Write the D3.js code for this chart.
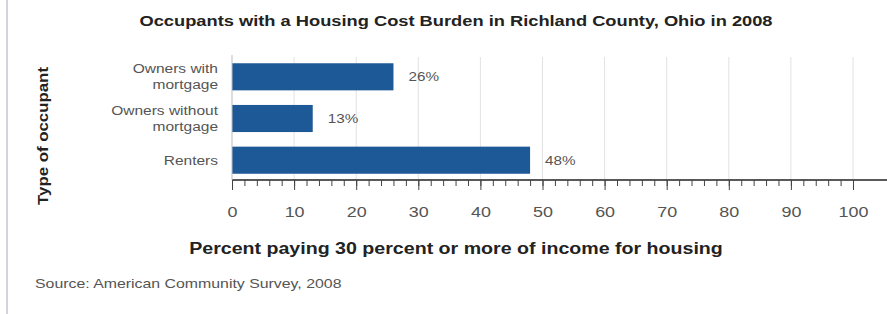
<!DOCTYPE html>
<html>
<head>
<meta charset="utf-8">
<script src="https://cdn.jsdelivr.net/npm/d3@7"></script>
<style>
    body { margin: 0; background: #fff; }
    text { font-family: "Liberation Sans", Arial, sans-serif; }
</style>
</head>
<body>
<div class="chart"></div>
<script>
// Data
const categories = [['Owners with', 'mortgage'], ['Owners without', 'mortgage'], ['Renters']];
const values = [26, 13, 48];
const valueLabels = ['26%', '13%', '48%'];
const tickValues = [0, 10, 20, 30, 40, 50, 60, 70, 80, 90, 100];
const minorTicks = d3.range(0, 101, 2);

const svg_width = 887;
const svg_height = 314;
const margin = { top: 57, left: 232, bottom: 180 };

// The original picture is a bit wider than tall, so text gets stretched sideways
function stretch(sel, k) {
    sel.each(function() {
        const w = this.getComputedTextLength();
        d3.select(this).attr('textLength', w * k).attr('lengthAdjust', 'spacingAndGlyphs');
    });
}

const svg = d3.select('.chart').append('svg')
    .attr('width', svg_width).attr('height', svg_height);

// left frame line
svg.append('rect').attr('x', 6).attr('y', 0).attr('width', 2).attr('height', svg_height).attr('fill', '#d4d4dc');

const xScale = d3.scaleLinear([0, 100], [margin.left, 853]);
const yScale = d3.scaleBand()
    .domain(d3.range(categories.length))
    .range([margin.top, margin.bottom])
    .paddingInner(0.35).paddingOuter(0.15);

// grid lines
svg.append('g').selectAll('line')
    .data(tickValues.slice(1))
    .enter().append('line')
    .attr('x1', d => xScale(d)).attr('x2', d => xScale(d))
    .attr('y1', margin.top).attr('y2', margin.bottom)
    .attr('stroke', '#e2e2e2').attr('stroke-width', 1);

// bars
svg.selectAll('.bar')
    .data(values)
    .enter().append('rect')
    .attr('class', 'bar')
    .attr('x', xScale(0))
    .attr('y', (d, i) => yScale(i))
    .attr('width', d => xScale(d) - xScale(0))
    .attr('height', yScale.bandwidth())
    .attr('fill', '#1d5996');

// value labels
const vals = svg.selectAll('.val')
    .data(values)
    .enter().append('text')
    .attr('class', 'val')
    .attr('x', d => xScale(d) + 15)
    .attr('y', (d, i) => yScale(i) + yScale.bandwidth() / 2)
    .attr('dy', '0.35em')
    .attr('font-size', 12.5).attr('fill', '#555')
    .text((d, i) => valueLabels[i]);
stretch(vals, 1.22);

// category labels
const cats = svg.selectAll('.cat')
    .data(categories)
    .enter().append('text')
    .attr('class', 'cat')
    .attr('text-anchor', 'end')
    .attr('font-size', 12.5).attr('fill', '#555')
    .attr('transform', (d, i) => `translate(218, ${yScale(i) + yScale.bandwidth() / 2})`);
const catLines = cats.selectAll('tspan')
    .data(d => d.map((t, j) => ({ t, j, n: d.length })))
    .enter().append('tspan')
    .attr('x', 0)
    .attr('y', d => (d.j - (d.n - 1) / 2) * 16)
    .attr('dy', '0.35em')
    .text(d => d.t);
stretch(catLines, 1.24);

// x axis
svg.append('line')
    .attr('x1', xScale(0)).attr('x2', svg_width)
    .attr('y1', margin.bottom).attr('y2', margin.bottom)
    .attr('stroke', '#222').attr('stroke-width', 1.5);
svg.append('line')
    .attr('x1', xScale(0)).attr('x2', xScale(0))
    .attr('y1', margin.top - 2).attr('y2', margin.bottom)
    .attr('stroke', '#bbb');

const minorAxis = d3.axisBottom(xScale).tickValues(minorTicks).tickSize(6).tickFormat('');
const minorDraw = svg.append('g').attr('transform', `translate(0, ${margin.bottom})`).call(minorAxis);
minorDraw.select('.domain').remove();
minorDraw.selectAll('line').attr('stroke', '#444');

const xAxis = d3.axisBottom(xScale).tickValues(tickValues).tickSize(10).tickPadding(17);
const xAxisDraw = svg.append('g').attr('class', 'x axis').attr('transform', `translate(0, ${margin.bottom})`).call(xAxis);
xAxisDraw.select('.domain').remove();
xAxisDraw.selectAll('line').attr('stroke', '#444');
xAxisDraw.selectAll('text').attr('font-size', 14).attr('fill', '#555')
    .attr('font-family', '"Liberation Sans", Arial, sans-serif');
stretch(xAxisDraw.selectAll('text'), 1.28);

// titles
const title = svg.append('text')
    .attr('x', 456).attr('y', 26)
    .attr('text-anchor', 'middle')
    .attr('font-size', 14.5).attr('font-weight', 'bold').attr('fill', '#222')
    .text('Occupants with a Housing Cost Burden in Richland County, Ohio in 2008');
stretch(title, 1.26);

const xTitle = svg.append('text')
    .attr('x', 456).attr('y', 254)
    .attr('text-anchor', 'middle')
    .attr('font-size', 16).attr('font-weight', 'bold').attr('fill', '#222')
    .text('Percent paying 30 percent or more of income for housing');
stretch(xTitle, 1.225);

const yTitle = svg.append('text')
    .attr('transform', 'translate(48, 136) rotate(-90)')
    .attr('text-anchor', 'middle')
    .attr('font-size', 14.5).attr('font-weight', 'bold').attr('fill', '#222')
    .text('Type of occupant');
stretch(yTitle, 1.16);

const source = svg.append('text')
    .attr('x', 35).attr('y', 288)
    .attr('font-size', 13).attr('fill', '#555')
    .text('Source: American Community Survey, 2008');
stretch(source, 1.22);
</script>
</body>
</html>
